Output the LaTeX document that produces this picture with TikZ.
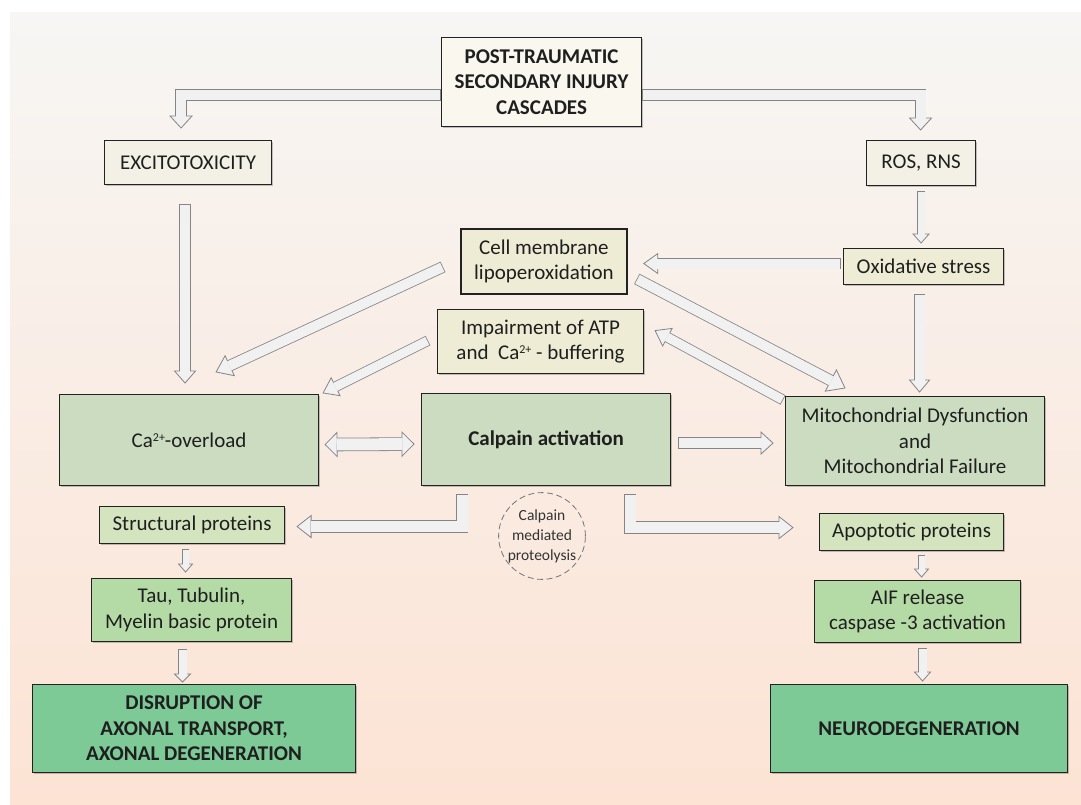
\documentclass[tikz,border=0pt]{standalone}
\usepackage{fontspec}
\setmainfont{Carlito}
\usetikzlibrary{calc,shadows}
\definecolor{agray}{HTML}{858585}
\definecolor{afill}{HTML}{F1F1F1}
\definecolor{cream}{HTML}{FAF7EF}
\definecolor{beige}{HTML}{F3F1E6}
\definecolor{khaki}{HTML}{EEECD5}
\definecolor{sage}{HTML}{CCDCC1}
\definecolor{lgreen}{HTML}{D3E4BF}
\definecolor{mgreen}{HTML}{B4DAA6}
\definecolor{dgreen}{HTML}{7ECA97}
\definecolor{bordc}{HTML}{222222}
\definecolor{bgtop}{HTML}{F7F6F4}
\definecolor{bgmid}{HTML}{FDEFE7}
\definecolor{bgbot}{HTML}{FCE3D4}

\newcommand{\sups}[1]{\raisebox{0.62ex}{\fontsize{12}{12}\selectfont #1}}
\newcommand{\arrhead}[3]{%
  \filldraw[draw=agray, fill=afill, line width=0.8pt, line join=miter]
    ($(#1)!#3!90:(#2)$) -- (#2) -- ($(#1)!#3!-90:(#2)$) -- cycle;}
\newcommand{\blkarrow}[5]{%
  \coordinate (bab) at ($(#5)!#3!(#4)$);
  \pgfmathsetlengthmacro\baout{#1+1.6pt}%
  \draw[agray, line width=\baout] (#4) -- (bab);
  \arrhead{bab}{#5}{#2}
  \draw[afill, line width=#1, shorten <=0.8pt, shorten >=-0.6pt] (#4) -- (bab);}
\newcommand{\blkbent}[6]{%
  \coordinate (bac) at (#5);
  \coordinate (bab) at ($(#6)!#3!(bac)$);
  \pgfmathsetlengthmacro\baout{#1+1.6pt}%
  \draw[agray, line width=\baout, line join=miter] (#4) -- (bac) -- (bab);
  \arrhead{bab}{#6}{#2}
  \draw[afill, line width=#1, line join=miter, shorten <=0.8pt, shorten >=-0.6pt] (#4) -- (bac) -- (bab);}
\newcommand{\blkdouble}[5]{%
  \coordinate (bda) at ($(#4)!#3!(#5)$);
  \coordinate (bdb) at ($(#5)!#3!(#4)$);
  \pgfmathsetlengthmacro\baout{#1+1.6pt}%
  \draw[agray, line width=\baout] (bda) -- (bdb);
  \arrhead{bda}{#4}{#2}
  \arrhead{bdb}{#5}{#2}
  \draw[afill, line width=#1, shorten <=-0.6pt, shorten >=-0.6pt] (bda) -- (bdb);}

\begin{document}
\begin{tikzpicture}[x=1pt,y=-1pt,
  nbox/.style={draw=bordc, line width=1.1pt, inner sep=0pt, align=center, anchor=north west,
    font=\fontsize{21}{25.5}\selectfont, text=black!88,
    drop shadow={shadow xshift=1.5pt, shadow yshift=-1.5pt, opacity=0.22, fill=black}},
  bbox/.style={nbox, font=\fontsize{21}{25.5}\selectfont\bfseries}]
\useasboundingbox (0,0) rectangle (1081,805);
\fill[white] (0,0) rectangle (1081,805);
\shade[top color=bgtop, middle color=bgmid, bottom color=bgbot] (10,13) rectangle (1081,805);

% nodes
\node[bbox, fill=cream, minimum width=200pt, minimum height=89pt] (top) at (441,37) {POST-TRAUMATIC\\SECONDARY INJURY\\CASCADES};
\node[nbox, fill=beige, minimum width=167pt, minimum height=44pt] (exc) at (104,140) {EXCITOTOXICITY};
\node[nbox, fill=beige, minimum width=109pt, minimum height=45pt] (ros) at (866,140) {ROS, RNS};
\node[nbox, fill=khaki, line width=1.8pt, minimum width=166pt, minimum height=65pt] (cell) at (460,228) {Cell membrane\\lipoperoxidation};
\node[nbox, fill=khaki, minimum width=160pt, minimum height=36pt] (ox) at (843,248) {Oxidative stress};
\node[nbox, fill=khaki, minimum width=206pt, minimum height=64pt] (imp) at (437,309) {Impairment of ATP\\and~ Ca\sups{2+} - buffering};
\node[nbox, fill=sage, minimum width=259pt, minimum height=91pt] (ca) at (59,394) {Ca\sups{2+}-overload};
\node[bbox, fill=sage, minimum width=249pt, minimum height=92pt] (cal) at (421,393) {Calpain activation};
\node[nbox, fill=sage, minimum width=259pt, minimum height=89pt] (mito) at (785,396) {Mitochondrial Dysfunction\\and\\Mitochondrial Failure};
\node[nbox, fill=lgreen, minimum width=185pt, minimum height=37pt] (struct) at (99,506) {Structural proteins};
\node[nbox, fill=lgreen, minimum width=184pt, minimum height=37pt] (apop) at (819,513) {Apoptotic proteins};
\node[nbox, fill=mgreen, minimum width=200pt, minimum height=63pt] (tau) at (91,578) {Tau, Tubulin,\\Myelin basic protein};
\node[nbox, fill=mgreen, minimum width=206pt, minimum height=62pt] (aif) at (814,580) {AIF release\\caspase -3 activation};
\node[bbox, fill=dgreen, minimum width=323pt, minimum height=88pt] (dis) at (32,684) {DISRUPTION OF\\AXONAL TRANSPORT,\\AXONAL DEGENERATION};
\node[bbox, fill=dgreen, minimum width=297pt, minimum height=88pt] (neu) at (770,684) {NEURODEGENERATION};
\node[circle, draw=black!55, line width=0.8pt, dash pattern=on 6pt off 3.5pt, minimum size=86pt, inner sep=0pt, align=center,
  font=\fontsize{15.5}{20}\selectfont, text=black!80] (circ) at (542,536) {Calpain\\mediated\\proteolysis};

% coordinates
\coordinate (t1s) at ($(top.north west)+(0,58)$);
\coordinate (t1e) at ($(exc.north)+(-7,-12)$);
\coordinate (t2s) at ($(top.north east)+(0,58)$);
\coordinate (t2e) at ($(ros.north)+(-0.5,-10)$);
\coordinate (e1) at ($(exc.south)+(-3,19)$);
\coordinate (e2) at ($(e1 |- ca.north)+(0,-11)$);
\coordinate (r1) at ($(ros.south)+(0,5)$);
\coordinate (r2) at ($(r1 |- ox.north)+(0,-5)$);
\coordinate (o1) at ($(ox.west)+(-2,-3)$);
\coordinate (o2) at ($(o1 -| cell.east)+(16,0)$);
\coordinate (m1) at ($(ox.south)+(-4,9)$);
\coordinate (m2) at ($(m1 |- mito.north)+(0,-4)$);
\coordinate (c1) at ($(cell.west)+(-17,5.5)$);
\coordinate (c2) at ($(ca.north east)+(-103,-22)$);
\coordinate (i1) at ($(imp.west)+(-9,-1)$);
\coordinate (i2) at ($(ca.north east)+(4,-1)$);
\coordinate (cm1) at ($(cell.east)+(9,17.5)$);
\coordinate (cm2) at ($(mito.north west)+(60,-8)$);
\coordinate (mi1) at ($(mito.north west)+(-2,4)$);
\coordinate (mi2) at ($(imp.east)+(11,-11)$);
\coordinate (d1) at ($(ca.east)+(6,4.5)$);
\coordinate (d2) at ($(cal.west)+(-7,4.5)$);
\coordinate (k1) at ($(cal.east)+(7,3.5)$);
\coordinate (k2) at ($(k1 -| mito.west)+(-12,0)$);
\coordinate (l1) at ($(cal.south west)+(41,8)$);
\coordinate (l2) at ($(struct.east)+(12,1.5)$);
\coordinate (q1) at ($(cal.south east)+(-41,8)$);
\coordinate (q2) at ($(apop.west)+(-26,-4.5)$);
\coordinate (s1) at ($(struct.south)+(-6.5,5)$);
\coordinate (s2) at ($(s1 |- tau.north)+(0,-6)$);
\coordinate (u1) at ($(tau.south)+(-9,7)$);
\coordinate (u2) at ($(u1 |- dis.north)+(0,-2)$);
\coordinate (p1) at ($(apop.south)+(10,4)$);
\coordinate (p2) at ($(p1 |- aif.north)+(0,-3)$);
\coordinate (a1) at ($(aif.south)+(5,5)$);
\coordinate (a2) at ($(a1 |- neu.north)+(0,-3)$);

% connectors
\blkbent{10pt}{11pt}{12pt}{t1s}{t1e |- t1s}{t1e}
\blkbent{10pt}{11pt}{12pt}{t2s}{t2e |- t2s}{t2e}
\blkarrow{10pt}{10.5pt}{12pt}{e1}{e2}
\blkarrow{7pt}{8pt}{9pt}{r1}{r2}
\blkarrow{10pt}{10pt}{14pt}{o1}{o2}
\blkarrow{10pt}{10pt}{12pt}{m1}{m2}
\blkarrow{10pt}{11pt}{15pt}{c1}{c2}
\blkarrow{9pt}{10pt}{14pt}{i1}{i2}
\blkarrow{10pt}{12pt}{16pt}{cm1}{cm2}
\blkarrow{9pt}{10pt}{14pt}{mi1}{mi2}
\blkdouble{12pt}{12pt}{12pt}{d1}{d2}
\blkarrow{10pt}{11pt}{12pt}{k1}{k2}
\blkbent{11pt}{11pt}{14pt}{l1}{l1 |- l2}{l2}
\blkbent{11pt}{11pt}{14pt}{q1}{q1 |- q2}{q2}
\blkarrow{6pt}{7pt}{8pt}{s1}{s2}
\blkarrow{8pt}{8pt}{8pt}{u1}{u2}
\blkarrow{6pt}{7pt}{8pt}{p1}{p2}
\blkarrow{8pt}{8pt}{9pt}{a1}{a2}
\end{tikzpicture}
\end{document}
